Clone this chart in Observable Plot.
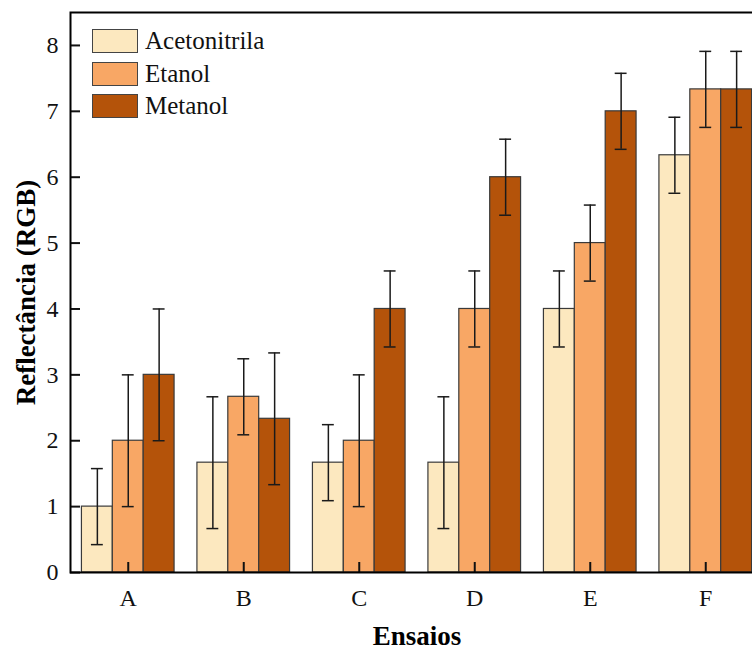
<!DOCTYPE html>
<html>
<head>
<meta charset="utf-8">
<script src="https://cdn.jsdelivr.net/npm/d3@7"></script>
<script src="https://cdn.jsdelivr.net/npm/@observablehq/plot@0.6"></script>
<style>
  html, body { margin: 0; padding: 0; background: #fff; overflow: hidden; }
  #wrap { position: relative; width: 752px; height: 652px; overflow: hidden; }
  #wrap svg { max-width: none !important; }
  #legend { position: absolute; left: 92px; top: 25px; font-family: "Liberation Serif", serif; font-size: 25px; color: #111; }
  #legend .row { display: flex; align-items: center; height: 32.5px; }
  #legend .sw { width: 44px; height: 22px; border: 1px solid #444; margin-right: 7px; box-sizing: content-box; }
</style>
</head>
<body>
<div id="wrap"><div id="legend"></div></div>
<script>
const categories = ["A", "B", "C", "D", "E", "F"];
const seriesNames = ["Acetonitrila", "Etanol", "Metanol"];
const seriesColors = ["#FCE8BF", "#F8A765", "#B4530A"];
const acetonitrila = [1.0, 1.667, 1.667, 1.667, 4.0, 6.333];
const etanol       = [2.0, 2.667, 2.0, 4.0, 5.0, 7.333];
const metanol      = [3.0, 2.333, 4.0, 6.0, 7.0, 7.333];
const errAcetonitrila = [0.577, 1.0, 0.577, 1.0, 0.577, 0.577];
const errEtanol       = [1.0, 0.577, 1.0, 0.577, 0.577, 0.577];
const errMetanol      = [1.0, 1.0, 0.577, 0.577, 0.577, 0.577];
const yTicks = [0, 1, 2, 3, 4, 5, 6, 7, 8];

const values = [acetonitrila, etanol, metanol];
const errors = [errAcetonitrila, errEtanol, errMetanol];
const data = [];
categories.forEach((c, i) => {
  seriesNames.forEach((s, k) => {
    data.push({cat: c, series: s, value: values[k][i], lo: values[k][i] - errors[k][i], hi: values[k][i] + errors[k][i]});
  });
});

const font = "Liberation Serif";
const chart = Plot.plot({
  width: 768,
  height: 652,
  marginLeft: 70,
  marginRight: 5,
  marginTop: 12,
  marginBottom: 80,
  facet: {marginTop: 0, marginRight: 0, marginBottom: 0, marginLeft: 0},
  style: {fontFamily: font, fontSize: "24px", color: "#111", background: "#fff", maxWidth: "none"},
  fx: {domain: categories, paddingInner: 0, paddingOuter: 0, round: false, label: null, axis: null},
  x: {domain: seriesNames, paddingInner: 0, paddingOuter: 0.37, round: false, axis: null},
  y: {domain: [0, 8.5], ticks: yTicks, label: null},
  color: {domain: seriesNames, range: seriesColors},
  marks: [
    Plot.barY(data, {fx: "cat", x: "series", y: "value", fill: "series", stroke: "#3a3a3a", strokeWidth: 1.2}),
    Plot.ruleX(data, {fx: "cat", x: "series", y1: "lo", y2: "hi", stroke: "#1a1a1a", strokeWidth: 1.5}),
    Plot.tickY(data, {fx: "cat", x: "series", y: "lo", stroke: "#1a1a1a", strokeWidth: 1.5, insetLeft: 9.5, insetRight: 9.5}),
    Plot.tickY(data, {fx: "cat", x: "series", y: "hi", stroke: "#1a1a1a", strokeWidth: 1.5, insetLeft: 9.5, insetRight: 9.5}),
    Plot.axisY({ticks: yTicks, tickSize: -10, tickPadding: 22, strokeWidth: 2, label: null, fontSize: 24}),
    Plot.axisX({ticks: ["Etanol"], tickSize: -10, tickFormat: () => "", strokeWidth: 2, label: null}),
    Plot.axisFx({anchor: "bottom", tickSize: 0, tickPadding: 16, label: null, fontSize: 24}),
    Plot.frame({facet: "super", stroke: "#000", strokeWidth: 2}),
    Plot.text(["Reflectância (RGB)"], {facet: "super", frameAnchor: "left", textAnchor: "middle", rotate: -90, dx: -44, text: d => d, fontWeight: "bold", fontSize: 27, fill: "#000"}),
    Plot.text(["Ensaios"], {facet: "super", frameAnchor: "bottom", dy: 72, text: d => d, fontWeight: "bold", fontSize: 27, fill: "#000"})
  ]
});
document.getElementById("wrap").prepend(chart);
chart.style.position = "absolute";
chart.style.left = "0px";
chart.style.top = "0px";

const legend = document.getElementById("legend");
seriesNames.forEach((s, k) => {
  const row = document.createElement("div");
  row.className = "row";
  const sw = document.createElement("div");
  sw.className = "sw";
  sw.style.background = seriesColors[k];
  const t = document.createElement("span");
  t.textContent = s;
  row.append(sw, t);
  legend.append(row);
});
</script>
</body>
</html>
